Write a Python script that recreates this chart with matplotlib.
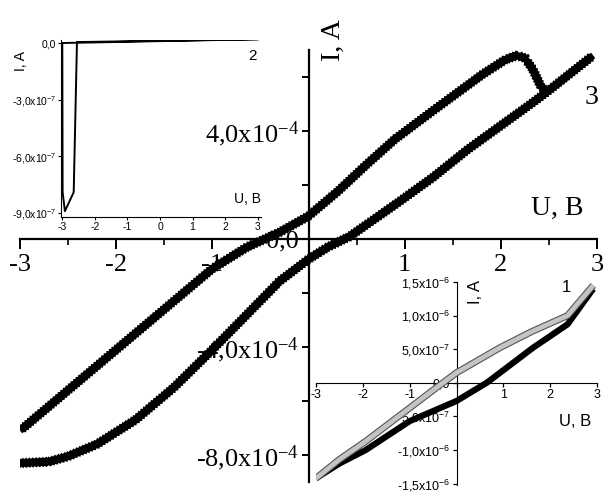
import numpy as np
import matplotlib
matplotlib.use("Agg")
import matplotlib.pyplot as plt
import matplotlib.patheffects as pe

plt.rcParams["font.family"] = ["Liberation Serif", "DejaVu Serif"]
plt.rcParams["mathtext.default"] = "regular"

W, H = 604, 493

# curve 3: forward sweep (lower branch) and return sweep (upper branch), I in 1e-4 A
u3_fwd = [-3.0, -2.7, -2.5, -2.2, -1.8, -1.4, -1.0, -0.6, -0.3, 0.0, 0.2, 0.43,
          0.95, 1.3, 1.65, 2.0, 2.35, 2.48, 2.96]
i3_fwd = [-8.3, -8.25, -8.05, -7.6, -6.7, -5.5, -4.1, -2.65, -1.56, -0.75, -0.3, 0.1,
          1.4, 2.3, 3.3, 4.2, 5.1, 5.45, 6.8]
u3_back = [2.48, 2.41, 2.33, 2.25, 2.17, 2.05, 1.81, 1.29, 0.9, 0.61, 0.3, 0.0,
           -0.3, -0.64, -1.0, -1.5, -2.0, -2.5, -3.0]
i3_back = [5.4, 5.7, 6.3, 6.7, 6.8, 6.65, 6.1, 4.74, 3.7, 2.78, 1.75, 0.85,
           0.25, -0.3, -1.1, -2.6, -4.1, -5.6, -7.1]

# curve 2 (upper-left inset), I in units of 1e-7 A
u2 = [3.0, -3.0, -2.99, -2.92, -2.65, -2.55, 3.0]
i2 = [0.2, 0.0, -7.9, -8.9, -7.9, 0.05, 0.2]

# curve 1 (lower-right inset), I in units of 1e-7 A
u1_up = [-3.0, -2.5, -1.94, -1.2, -0.52, 0.0, 0.92, 1.6, 2.37, 2.92]
i1_up = [-14.2, -11.4, -8.7, -4.8, -1.2, 1.5, 5.2, 7.6, 10.0, 14.5]
u1_low = [-3.0, -2.5, -1.94, -1.0, 0.0, 0.65, 1.63, 2.37, 2.92]
i1_low = [-14.2, -12.0, -10.0, -5.7, -2.7, 0.03, 5.2, 8.7, 14.0]

main_yticks = [-8e-4, -4e-4, 0.0, 4e-4]
main_ylabels = ["-8,0x10$^{-4}$", "-4,0x10$^{-4}$", "0,0", "4,0x10$^{-4}$"]
main_xticks = [-3, -2, -1, 0, 1, 2, 3]
main_xlabels = ["-3", "-2", "-1", "", "1", "2", "3"]

ins1_yticks = [0.0, -3e-7, -6e-7, -9e-7]
ins1_ylabels = ["0,0", "-3,0x10$^{-7}$", "-6,0x10$^{-7}$", "-9,0x10$^{-7}$"]
ins1_xticks = [-3, -2, -1, 0, 1, 2, 3]

ins2_yticks = [-1.5e-6, -1e-6, -5e-7, 0.0, 5e-7, 1e-6, 1.5e-6]
ins2_ylabels = ["-1,5x10$^{-6}$", "-1,0x10$^{-6}$", "-5,0x10$^{-7}$", "0,0",
                "5,0x10$^{-7}$", "1,0x10$^{-6}$", "1,5x10$^{-6}$"]
ins2_xticks = [-3, -2, -1, 0, 1, 2, 3]
ins2_xlabels = ["-3", "-2", "-1", "", "1", "2", "3"]


def box(x0, y0, x1, y1):
    # pixel box (top-left origin) -> figure fraction rect
    return [x0 / W, 1 - y1 / H, (x1 - x0) / W, (y1 - y0) / H]


def pxt(x, y):
    return x / W, 1 - y / H


def cross_axes(ax):
    ax.spines["left"].set_position(("data", 0))
    ax.spines["bottom"].set_position(("data", 0))
    ax.spines["top"].set_visible(False)
    ax.spines["right"].set_visible(False)


fig = plt.figure(figsize=(W / 100, H / 100), dpi=100)
fig.patch.set_facecolor("white")

# ---- main plot ----
ax = fig.add_axes(box(20, 50, 597, 482), zorder=1)
ax.set_facecolor("none")
ax.set_xlim(-3, 3)
ax.set_ylim(-9e-4, 7e-4)
cross_axes(ax)
for s in ("left", "bottom"):
    ax.spines[s].set_linewidth(1.6)
ax.set_xticks(main_xticks)
ax.set_xticklabels(main_xlabels)
ax.set_xticks([-2.5, -1.5, -0.5, 0.5, 1.5, 2.5], minor=True)
ax.set_yticks(main_yticks)
ax.set_yticklabels(main_ylabels)
ax.set_yticks([-6e-4, -2e-4, 2e-4, 6e-4], minor=True)
ax.tick_params(axis="x", which="major", direction="out", length=7, width=1.4,
               labelsize=19, pad=4)
ax.tick_params(axis="x", which="minor", direction="out", length=4, width=1.2)
ax.tick_params(axis="y", which="both", direction="out", length=5, width=1.4,
               labelsize=19, pad=2)

# serrated thick trace
saw = [pe.TickedStroke(spacing=2.4, angle=125, length=1.6, linewidth=2.2),
       pe.TickedStroke(spacing=2.4, angle=-125, length=1.6, linewidth=2.2),
       pe.Normal()]
for u, i in ((u3_fwd, i3_fwd), (u3_back, i3_back)):
    ax.plot(u, np.array(i) * 1e-4, color="black", lw=5.0, solid_capstyle="butt",
            solid_joinstyle="round", path_effects=saw, zorder=4)

fig.text(*pxt(333, 40), "I, A", rotation=90, fontsize=20, ha="center", va="center")
fig.text(*pxt(557, 208), "U, B", fontsize=20, ha="center", va="center")
fig.text(*pxt(592, 97), "3", fontsize=20, ha="center", va="center")

# ---- inset with curve 2 ----
sans = ["Liberation Sans", "DejaVu Sans"]
a1 = fig.add_axes(box(61, 40, 261, 217), zorder=0)
a1.set_xlim(-3.04, 3.1)
a1.set_ylim(-9.21e-7, 0.16e-7)
a1.spines["top"].set_visible(False)
a1.spines["right"].set_visible(False)
a1.set_xticks(ins1_xticks)
a1.set_xticklabels([str(t) for t in ins1_xticks], family=sans)
a1.set_yticks(ins1_yticks)
a1.set_yticklabels(ins1_ylabels, family=sans)
a1.tick_params(direction="out", length=2, width=0.8, labelsize=7.5, pad=1.5)
a1.plot(u2, np.array(i2) * 1e-7, color="black", lw=1.4)
fig.text(*pxt(21, 61), "I, A", rotation=90, fontsize=10, family=sans,
         ha="center", va="center")
fig.text(*pxt(247, 199), "U, B", fontsize=10, family=sans, ha="center", va="center")
fig.text(*pxt(253, 56), "2", fontsize=11, family=sans, ha="center", va="center")

# ---- inset with curve 1 ----
a2 = fig.add_axes(box(316, 282, 597, 485), zorder=2)
a2.set_facecolor("none")
a2.set_xlim(-3, 3)
a2.set_ylim(-1.52e-6, 1.5e-6)
cross_axes(a2)
a2.set_xticks(ins2_xticks)
a2.set_xticklabels(ins2_xlabels, family=sans)
a2.set_yticks(ins2_yticks)
a2.set_yticklabels(ins2_ylabels, family=sans)
a2.tick_params(direction="out", length=3, width=0.9, labelsize=9, pad=1.5)
a2.plot(u1_low, np.array(i1_low) * 1e-7, color="black", lw=4.5,
        solid_capstyle="butt", zorder=3)
a2.plot(u1_up, np.array(i1_up) * 1e-7, color="#c4c4c4", lw=3.4, zorder=4,
        solid_capstyle="butt",
        path_effects=[pe.Stroke(linewidth=5, foreground="#555555"), pe.Normal()])
fig.text(*pxt(475, 292), "I, A", rotation=90, fontsize=12, family=sans,
         ha="center", va="center")
fig.text(*pxt(575, 422), "U, B", fontsize=12, family=sans, ha="center", va="center")
fig.text(*pxt(566, 288), "1", fontsize=12, family=sans, ha="center", va="center")

fig.savefig("out.png", dpi=100)
